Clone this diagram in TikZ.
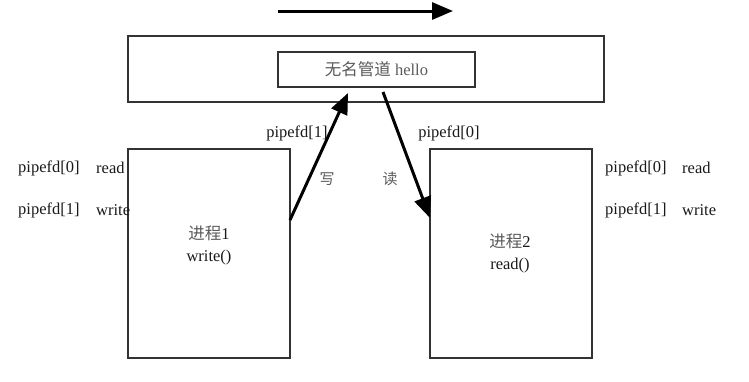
\documentclass[tikz,border=0pt]{standalone}
\usepackage{fontspec}
\setmainfont{Liberation Serif}
\newfontfamily\cjk{Noto Sans CJK SC}
\usetikzlibrary{arrows.meta}
\definecolor{textgray}{HTML}{5A5A5A}
\definecolor{linegray}{HTML}{333333}

\begin{document}
\begin{tikzpicture}[x=1pt, y=-1pt, font=\fontsize{16.5}{20}\selectfont,
  box/.style={draw=linegray, line width=1.3pt, inner sep=0pt},
  flow/.style={line width=3pt, -{Triangle[length=21pt,width=17pt]}},
  zh/.style={font=\fontsize{15}{20}\selectfont\cjk, text=textgray},
  en/.style={text=black!90}]
  \useasboundingbox (0,0) rectangle (749,381);

  % Direction of the data flow
  \coordinate (flowstart) at (278,11);
  \coordinate (flowend) at (453,11);
  \draw[flow] (flowstart) -- (flowend);

  % The pipe and its buffer
  \node[box, minimum width=476pt, minimum height=66pt] (pipe) at (366,69) {};
  \node[box, minimum width=197pt, minimum height=35pt, text=textgray] (buf) at (376.5,69.5)
    {{\cjk 无名管道} hello};

  % The two processes
  \node[box, minimum width=162pt, minimum height=209pt] (proc1) at (209,253.5) {};
  \node[box, minimum width=162pt, minimum height=209pt] (proc2) at (511,253.5) {};
  \node[align=center, en, inner sep=0pt] (p1text) at (209,245)
    {{\cjk\color{textgray}进程}1\\[2pt]write()};
  \node[align=center, en, inner sep=0pt] (p2text) at (510,253)
    {{\cjk\color{textgray}进程}2\\[2pt]read()};

  % Writing and reading
  \coordinate (wfrom) at (290,220);
  \coordinate (wto) at (348,93);
  \coordinate (rfrom) at (383,92);
  \coordinate (rto) at (430,218);
  \draw[flow] (wfrom) -- (wto);
  \draw[flow] (rfrom) -- (rto);
  \node[en] (wfd) at (297,133) {pipefd[1]};
  \node[en] (rfd) at (449,133) {pipefd[0]};
  \node[zh] (wlabel) at (327,179) {写};
  \node[zh] (rlabel) at (390,179) {读};

  % File descriptors of each process
  \node[en, anchor=west, inner sep=0pt] (l0) at (18,168) {pipefd[0]};
  \node[en, anchor=west, inner sep=0pt] (l0op) at (96,168) {read};
  \node[en, anchor=west, inner sep=0pt] (l1) at (18,210) {pipefd[1]};
  \node[en, anchor=west, inner sep=0pt] (l1op) at (96,210) {write};
  \node[en, anchor=west, inner sep=0pt] (r0) at (605,168) {pipefd[0]};
  \node[en, anchor=west, inner sep=0pt] (r0op) at (682,168) {read};
  \node[en, anchor=west, inner sep=0pt] (r1) at (605,210) {pipefd[1]};
  \node[en, anchor=west, inner sep=0pt] (r1op) at (682,210) {write};
\end{tikzpicture}
\end{document}
